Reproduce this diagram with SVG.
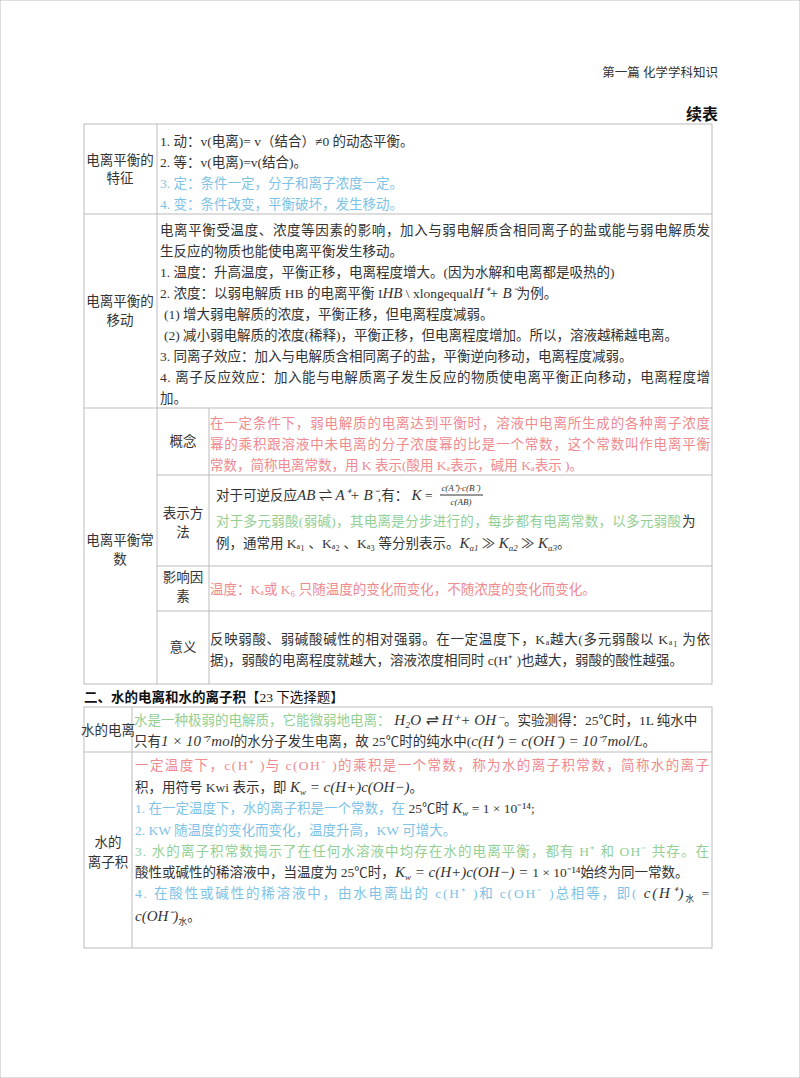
<svg xmlns="http://www.w3.org/2000/svg" width="800" height="1078" viewBox="0 0 800 1078">
<style>
text{font-family:"Liberation Serif","Noto Sans CJK SC",serif;font-size:13.5px;fill:#333}
.b{fill:#7ec3e6}.r{fill:#ef8a8f}.g{fill:#93cf93}
.m{font-family:"Liberation Serif",serif;font-style:italic;font-size:15px}
.c{text-anchor:middle}
line,rect{stroke:#bbb;stroke-width:1;fill:none}
</style>
<rect width="800" height="1078" fill="#fff" stroke="none"/>
<text x="718" y="77" text-anchor="end" style="font-size:12.5px">第一篇 化学学科知识</text>
<text x="718" y="120" text-anchor="end" style="font-size:16px;font-weight:bold;fill:#111">续表</text>
<g id="table1">
<rect x="84" y="124" width="628" height="560"/>
<line x1="157" y1="124" x2="157" y2="684"/>
<line x1="84" y1="214" x2="712" y2="214"/>
<line x1="84" y1="408" x2="712" y2="408"/>
<line x1="209" y1="408" x2="209" y2="684"/>
<line x1="157" y1="475" x2="712" y2="475"/>
<line x1="157" y1="566" x2="712" y2="566"/>
<line x1="157" y1="611" x2="712" y2="611"/>
</g>
<g id="features">
<text x="120" y="165" class="c">电离平衡的</text><text x="120" y="183" class="c">特征</text>
<text x="160" y="146">1. 动：v(电离)= v（结合）≠0 的动态平衡。</text>
<text x="160" y="167">2. 等：v(电离)=v(结合)。</text>
<text x="160" y="188" class="b">3. 定：条件一定，分子和离子浓度一定。</text>
<text x="160" y="209" class="b">4. 变：条件改变，平衡破坏，发生移动。</text>
</g>
<g id="shift">
<text x="120" y="306" class="c">电离平衡的</text><text x="120" y="325" class="c">移动</text>
<text x="160" y="235" textLength="550">电离平衡受温度、浓度等因素的影响，加入与弱电解质含相同离子的盐或能与弱电解质发</text>
<text x="160" y="256">生反应的物质也能使电离平衡发生移动。</text>
<text x="160" y="277">1. 温度：升高温度，平衡正移，电离程度增大。(因为水解和电离都是吸热的)</text>
<text x="160" y="298">2. 浓度：以弱电解质 HB 的电离平衡 I<tspan class="m">HB</tspan> \ xlongequal<tspan class="m">H⁺+ B⁻</tspan>为例。</text>
<text x="164" y="319">(1) 增大弱电解质的浓度，平衡正移，但电离程度减弱。</text>
<text x="164" y="340">(2) 减小弱电解质的浓度(稀释)，平衡正移，但电离程度增加。所以，溶液越稀越电离。</text>
<text x="160" y="361">3. 同离子效应：加入与电解质含相同离子的盐，平衡逆向移动，电离程度减弱。</text>
<text x="160" y="382" textLength="550">4. 离子反应效应：加入能与电解质离子发生反应的物质使电离平衡正向移动，电离程度增</text>
<text x="160" y="403">加。</text>
</g>
<g id="constant">
<text x="120" y="545" class="c">电离平衡常</text><text x="120" y="564" class="c">数</text>
<text x="183" y="446" class="c">概念</text>
<text x="210" y="428" class="r" textLength="500">在一定条件下，弱电解质的电离达到平衡时，溶液中电离所生成的各种离子浓度</text>
<text x="210" y="449" class="r" textLength="500">幂的乘积跟溶液中未电离的分子浓度幂的比是一个常数，这个常数叫作电离平衡</text>
<text x="210" y="470" class="r">常数，简称电离常数，用 K 表示(酸用 Kₐ表示，碱用 Kₐ表示 )。</text>
<text x="183" y="518" class="c">表示方</text><text x="183" y="537" class="c">法</text>
<text x="216" y="500">对于可逆反应<tspan class="m">AB</tspan> ⇌ <tspan class="m">A⁺+ B⁻</tspan>,有： <tspan class="m">K</tspan> =</text>
<text x="461" y="491" class="c m" style="font-size:9px">c(A⁺)·c(B⁻)</text>
<line x1="440" y1="495" x2="483" y2="495" style="stroke:#333"/>
<text x="461" y="505" class="c m" style="font-size:9px">c(AB)</text>
<text x="216" y="526" class="g" textLength="465">对于多元弱酸(弱碱)，其电离是分步进行的，每步都有电离常数，以多元弱酸</text><text x="682" y="526">为</text>
<text x="216" y="548">例，通常用 Kₐ₁ 、Kₐ₂ 、Kₐ₃ 等分别表示。<tspan class="m">K</tspan><tspan class="m" style="font-size:9px" dy="3">a1</tspan><tspan dy="-3"> ≫ </tspan><tspan class="m">K</tspan><tspan class="m" style="font-size:9px" dy="3">a2</tspan><tspan dy="-3"> ≫ </tspan><tspan class="m">K</tspan><tspan class="m" style="font-size:9px" dy="3">a3</tspan><tspan dy="-3">。</tspan></text>
<text x="183" y="582" class="c">影响因</text><text x="183" y="601" class="c">素</text>
<text x="210" y="594" class="r">温度：Kₐ或 K₆ 只随温度的变化而变化，不随浓度的变化而变化。</text>
<text x="183" y="652" class="c">意义</text>
<text x="210" y="644" textLength="500">反映弱酸、弱碱酸碱性的相对强弱。在一定温度下，Kₐ越大(多元弱酸以 Kₐ₁ 为依</text>
<text x="210" y="665">据)，弱酸的电离程度就越大，溶液浓度相同时 c(H⁺ )也越大，弱酸的酸性越强。</text>
</g>
<text x="84" y="702" style="font-weight:bold;fill:#111">二、水的电离和水的离子积<tspan style="font-weight:normal">【23 下选择题】</tspan></text>
<g id="table2">
<rect x="84" y="707" width="628" height="241"/>
<line x1="132" y1="707" x2="132" y2="948"/>
<line x1="84" y1="752" x2="712" y2="752"/>
</g>
<g id="water">
<text x="108" y="735" class="c">水的电离</text>
<text x="134" y="725"><tspan class="g">水是一种极弱的电解质，它能微弱地电离：</tspan><tspan class="m"> H₂O ⇌ H⁺+ OH⁻</tspan>。实验测得：25℃时，1L 纯水中</text>
<text x="134" y="746">只有<tspan class="m">1 × 10⁻⁷mol</tspan>的水分子发生电离，故 25℃时的纯水中(<tspan class="m">c(H⁺) = c(OH⁻) = 10⁻⁷mol/L</tspan>。</text>
</g>
<g id="kw">
<text x="108" y="847" class="c">水的</text><text x="108" y="867" class="c">离子积</text>
<text x="135" y="770" class="r" textLength="574">一定温度下，c(H⁺ )与 c(OH⁻ )的乘积是一个常数，称为水的离子积常数，简称水的离子</text>
<text x="135" y="792">积，用符号 Kwi 表示，即 <tspan class="m">K</tspan><tspan class="m" style="font-size:9px" dy="3">w</tspan><tspan class="m" dy="-3"> = c(H+)c(OH−)</tspan>。</text>
<text x="135" y="813"><tspan class="b">1. 在一定温度下，水的离子积是一个常数，在 </tspan>25℃时 <tspan class="m">K</tspan><tspan class="m" style="font-size:9px" dy="3">w</tspan><tspan dy="-3"> = 1 × 10⁻¹⁴;</tspan></text>
<text x="135" y="835" class="b">2. KW 随温度的变化而变化，温度升高，KW 可增大。</text>
<text x="135" y="856" class="g" textLength="574">3. 水的离子积常数揭示了在任何水溶液中均存在水的电离平衡，都有 H⁺ 和 OH⁻  共存。在</text>
<text x="135" y="877">酸性或碱性的稀溶液中，当温度为 25℃时，<tspan class="m">K</tspan><tspan class="m" style="font-size:9px" dy="3">w</tspan><tspan class="m" dy="-3"> = c(H+)c(OH−) = </tspan>1 × 10⁻¹⁴始终为同一常数。</text>
<text x="135" y="898" textLength="574"><tspan class="b">4. 在酸性或碱性的稀溶液中，由水电离出的 c(H⁺ )和 c(OH⁻ )总相等，即( </tspan><tspan class="m">c(H⁺)</tspan><tspan style="font-size:9px" dy="4">水</tspan><tspan dy="-4"> =</tspan></text>
<text x="135" y="921"><tspan class="m">c(OH⁻)</tspan><tspan style="font-size:9px" dy="4">水</tspan><tspan dy="-4">。</tspan></text>
</g>
</svg>
